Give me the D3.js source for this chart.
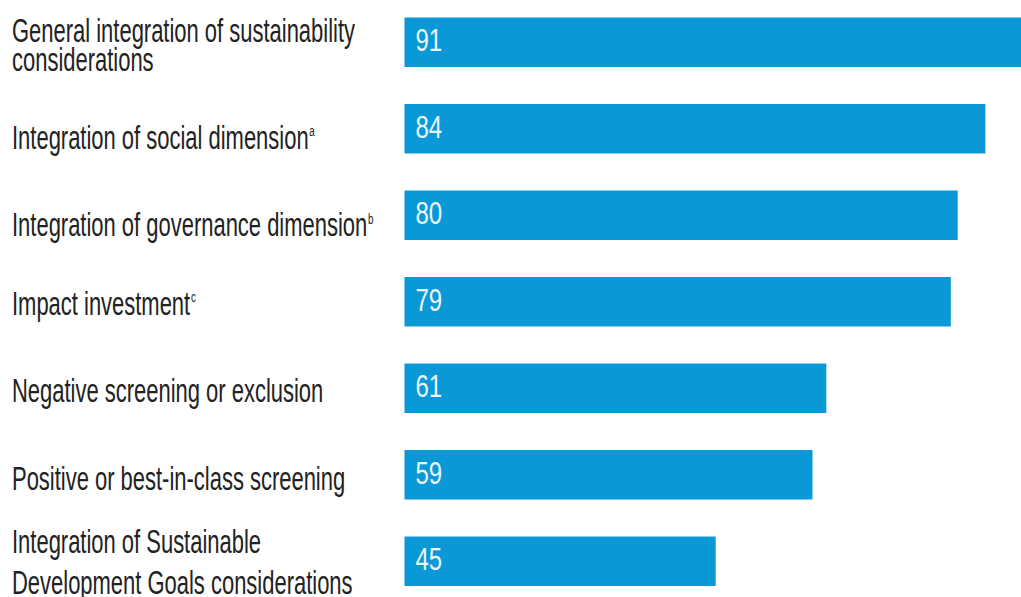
<!DOCTYPE html>
<html>
<head>
<meta charset="utf-8">
<script src="https://cdn.jsdelivr.net/npm/d3@7"></script>
<style>
  html, body { margin: 0; padding: 0; background: #ffffff; }
  svg { display: block; }
</style>
</head>
<body>
<script>
// Share of respondents applying each sustainable-investment approach (%)
const categories = [
  "General integration of sustainability considerations",
  "Integration of social dimension",
  "Integration of governance dimension",
  "Impact investment",
  "Negative screening or exclusion",
  "Positive or best-in-class screening",
  "Integration of Sustainable Development Goals considerations"
];
// How each category label is broken over lines
const labelLines = [
  ["General integration of sustainability", "considerations"],
  ["Integration of social dimension"],
  ["Integration of governance dimension"],
  ["Impact investment"],
  ["Negative screening or exclusion"],
  ["Positive or best-in-class screening"],
  ["Integration of Sustainable", "Development Goals considerations"]
];
const footnotes = ["", "a", "b", "c", "", "", ""];
const values = [91, 84, 80, 79, 61, 59, 45];

// label placement: first baseline relative to bar centre, and line spacing
const labelBaseline = [0, 20, 21, 13, 14, 15, -8];
const labelLeading = [29, 0, 0, 0, 0, 0, 41];

const width = 1021, height = 597;
const barColor = "#0a98d6";

const svg = d3.select("body").append("svg")
  .attr("width", width)
  .attr("height", height);

const x = d3.scaleLinear().domain([0, 100]).range([404.5, 1096]);
const y = d3.scaleBand().domain(categories).range([17.5, 586])
  .paddingInner(0.428).paddingOuter(0);

const rows = svg.selectAll("g.row")
  .data(categories.map((c, i) => ({
    c, v: values[i], lines: labelLines[i], fn: footnotes[i],
    base: labelBaseline[i], lead: labelLeading[i]
  })))
  .join("g").attr("class", "row");

rows.append("rect")
  .attr("x", x(0))
  .attr("y", d => y(d.c))
  .attr("width", d => x(d.v) - x(0))
  .attr("height", y.bandwidth())
  .attr("fill", barColor);

// value inside each bar, condensed type
rows.append("text")
  .attr("transform", d => `translate(${x(0) + 11},${y(d.c) + y.bandwidth() / 2 + 9}) scale(0.75,1)`)
  .attr("font-family", "'Liberation Sans', Arial, sans-serif")
  .attr("font-size", 32)
  .attr("fill", "#eaf7fd")
  .text(d => d.v);

// category labels, condensed type
rows.each(function (d) {
  const g = d3.select(this);
  const mid = y(d.c) + y.bandwidth() / 2;
  const n = d.lines.length;
  d.lines.forEach((line, j) => {
    const base = mid + d.base + j * d.lead;
    const t = g.append("text")
      .attr("transform", `translate(12,${base}) scale(0.75,1.13)`)
      .attr("font-family", "'Liberation Sans', Arial, sans-serif")
      .attr("font-size", 29.3)
      .attr("fill", "#222222");
    t.append("tspan").text(line);
    if (j === n - 1 && d.fn) {
      t.append("tspan")
        .attr("dx", 1)
        .attr("dy", -11)
        .attr("font-size", 13)
        .text(d.fn);
    }
  });
});
</script>
</body>
</html>
